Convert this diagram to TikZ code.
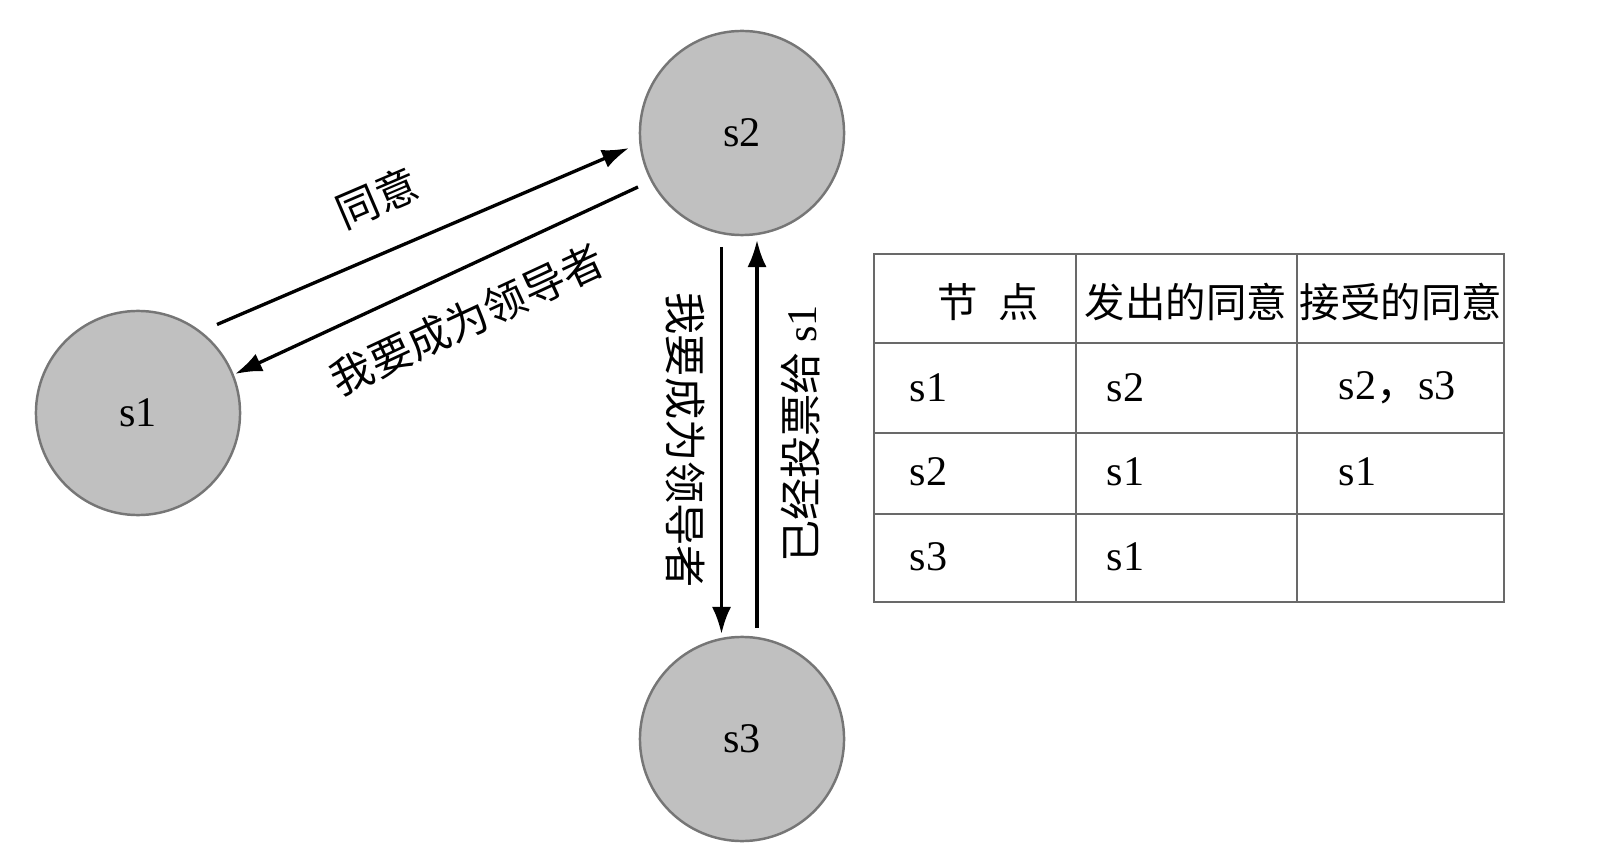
\documentclass[tikz,border=0pt]{standalone}
\usepackage{fontspec}
\setmainfont{Liberation Serif}
\newfontfamily\cjk{Noto Sans CJK SC}
\usepackage{xcolor}
\usetikzlibrary{arrows.meta,calc,positioning}
\definecolor{nodefill}{RGB}{192, 192, 192}
\definecolor{nodeedge}{RGB}{118, 118, 118}
\definecolor{gridgray}{RGB}{105, 105, 105}

\tikzset{
    server/.style={circle, fill=nodefill, draw=nodeedge, line width=0.7pt,
        minimum size=2.04cm, inner sep=0pt, font=\fontsize{12}{14}\selectfont},
    msg/.style={-{Latex[length=0.27cm, width=0.19cm]}, line width=0.95pt, black},
    msglabel/.style={font=\cjk\fontsize{12}{14}\selectfont, inner sep=1.5pt, sloped},
    cellhead/.style={font=\cjk\fontsize{11.5}{14}\selectfont, inner sep=0pt},
    cell/.style={font=\fontsize{12}{14}\selectfont, inner sep=0pt, anchor=west},
}

\begin{document}
\begin{tikzpicture}[x=0.01cm, y=-0.01cm]
    \useasboundingbox (0,0) rectangle (1600,858);

    % the three servers
    \node[server] (s1) at (138,413) {s1};
    \node[server] (s2) at (742,133) {s2};
    \node[server] (s3) at (742,739) {s3};

    % vote requests and replies
    \draw[msg] ($(s1)+(79,-88.5)$) -- ($(s2)+(-113,15)$)
        node[msglabel, pos=0.44, above=0.27cm] {同意};
    \draw[msg, {Latex[length=0.27cm, width=0.19cm]}-] ($(s1)+(97,-39)$) -- ($(s2)+(-104,54)$)
        node[msglabel, pos=0.525, below=0.22cm] {我要成为领导者};
    \draw[msg] ($(s2)+(-20.5,114)$) -- ($(s3)+(-20.5,-105)$)
        node[msglabel, midway, below=0.1cm] {我要成为领导者};
    \draw[msg] ($(s3)+(15,-111)$) -- ($(s2)+(15,107)$)
        node[msglabel, midway, below=0.17cm] {已经投票给 {\fontspec{Liberation Serif}s1}};

    % vote table
    \draw[gridgray, line width=0.7pt] (874,254) rectangle (1504,602);
    \foreach \cx in {1076,1297}
        \draw[gridgray, line width=0.7pt] (\cx,254) -- (\cx,602);
    \foreach \ry in {343,433,514}
        \draw[gridgray, line width=0.7pt] (874,\ry) -- (1504,\ry);

    \node[cellhead] (h1) at (988,302) {节\hspace{0.5em}点};
    \node[cellhead] (h2) at (1186,302) {发出的同意};
    \node[cellhead] (h3) at (1401,302) {接受的同意};

    \node[cell] (r1c1) at (909,388) {s1};
    \node[cell] (r1c2) at (1106,388) {s2};
    \node[cell] (r1c3) at (1338,388) {s2{\cjk ，}s3};
    \node[cell] (r2c1) at (909,472) {s2};
    \node[cell] (r2c2) at (1106,472) {s1};
    \node[cell] (r2c3) at (1338,472) {s1};
    \node[cell] (r3c1) at (909,557) {s3};
    \node[cell] (r3c2) at (1106,557) {s1};
\end{tikzpicture}
\end{document}
